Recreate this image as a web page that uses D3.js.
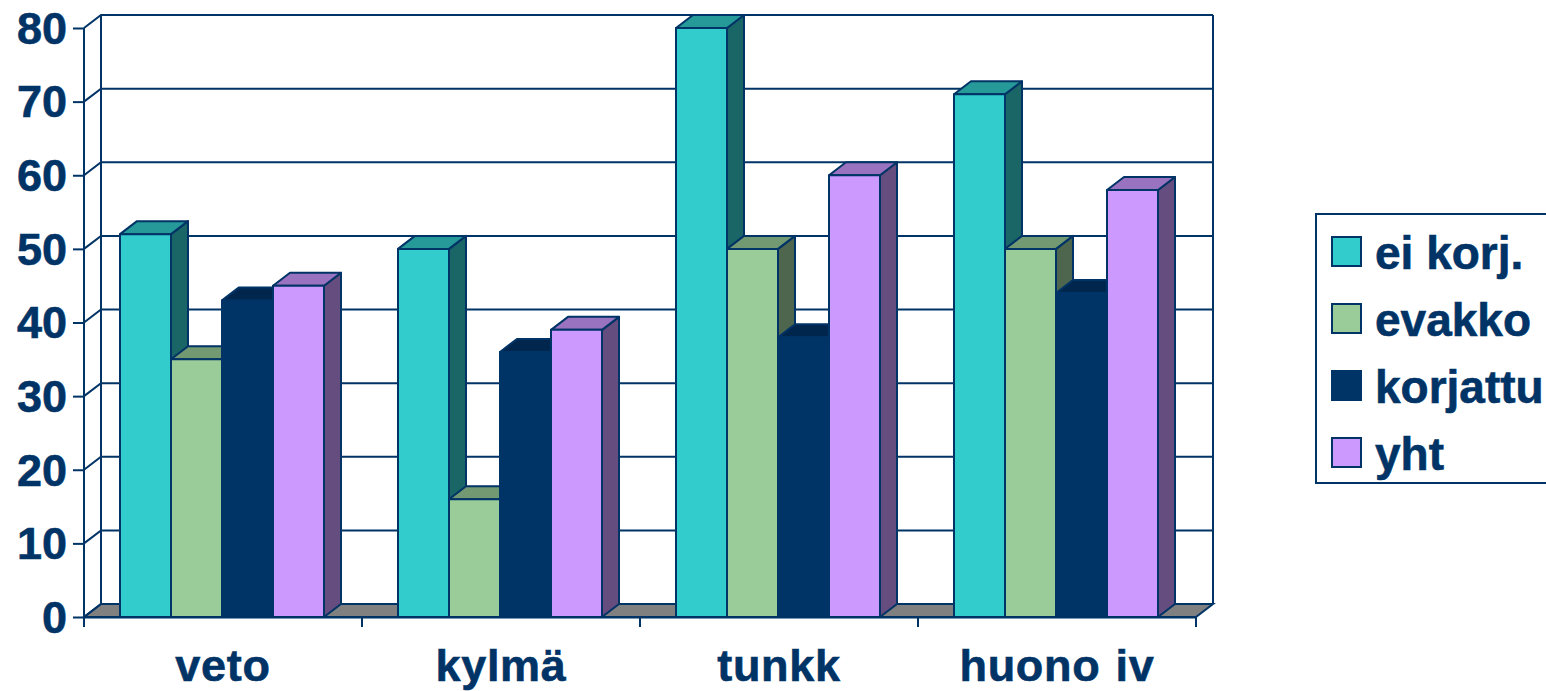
<!DOCTYPE html>
<html>
<head>
<meta charset="utf-8">
<script src="https://cdn.jsdelivr.net/npm/d3@7"></script>
<style>
  body { margin: 0; background: #fff; }
  text { font-family: "Liberation Sans", Arial, sans-serif; font-weight: bold; fill: #003366; stroke: #003366; stroke-width: 0.6px; }
</style>
</head>
<body>
<div id="chart"></div>
<script>
var categories = ["veto", "kylmä", "tunkk", "huono iv"];
var seriesNames = ["ei korj.", "evakko", "korjattu", "yht"];
var eiKorj = [52, 50, 80, 71];
var evakko = [35, 16, 50, 50];
var korjattu = [43, 36, 38, 44];
var yht = [45, 39, 60, 58];
var yTicks = [0, 10, 20, 30, 40, 50, 60, 70, 80];
var seriesValues = [eiKorj, evakko, korjattu, yht];

var colors = ["#33CCCC", "#99CC99", "#003366", "#CC99FF"];
var topColors = ["#269999", "#739973", "#00264D", "#9973BF"];
var sideColors = ["#1A6666", "#4D664D", "#001A33", "#664D80"];
var navy = "#003366";

function init() {
	var w = 1546;
	var h = 691;
	var depthX = 17;
	var depthY = 13;

	var svg = d3.select("#chart")
				.append("svg")
				.attr("width", w)
				.attr("height", h)
				.style("display", "block");

	var y = d3.scaleLinear().domain([0, 80]).range([617, 28]);
	var x0 = d3.scaleBand().domain(categories).range([84, 1196]);
	var x1 = d3.scaleBand().domain(seriesNames).range([36, 240]);

	var xLeft = x0.range()[0];
	var xRight = x0.range()[1];

	// floor
	svg.append("polygon")
	   .attr("points", [[xLeft, y(0)], [xLeft + depthX, y(0) - depthY],
						[xRight + depthX, y(0) - depthY], [xRight, y(0)]].join(" "))
	   .style("fill", "#808080")
	   .style("stroke", navy)
	   .style("stroke-width", 2);

	// back wall grid lines
	svg.selectAll("line.grid")
	   .data(yTicks)
	   .enter()
	   .append("polyline")
	   .attr("points", function(d) {
		   return [[xLeft, y(d)], [xLeft + depthX, y(d) - depthY], [xRight + depthX, y(d) - depthY]].join(" ");
	   })
	   .style("fill", "none")
	   .style("stroke", navy)
	   .style("stroke-width", 2);

	// walls
	[xLeft, xLeft + depthX, xRight + depthX].forEach(function(px, i) {
		var off = i == 0 ? 0 : depthY;
		svg.append("line")
		   .attr("x1", px).attr("x2", px)
		   .attr("y1", y(0) - off).attr("y2", y(80) - off)
		   .style("stroke", navy)
		   .style("stroke-width", 2);
	});

	// bars
	categories.forEach(function(cat, c) {
		seriesNames.forEach(function(name, s) {
			var v = seriesValues[s][c];
			var bx = x0(cat) + x1(name);
			var bw = x1.bandwidth();
			var by = y(v);
			var g = svg.append("g")
					   .style("stroke", navy)
					   .style("stroke-width", 2)
					   .style("stroke-linejoin", "round");

			g.append("polygon")
			 .attr("points", [[bx + bw, by], [bx + bw + depthX, by - depthY],
							  [bx + bw + depthX, y(0) - depthY], [bx + bw, y(0)]].join(" "))
			 .style("fill", sideColors[s]);
			g.append("polygon")
			 .attr("points", [[bx, by], [bx + depthX, by - depthY],
							  [bx + bw + depthX, by - depthY], [bx + bw, by]].join(" "))
			 .style("fill", topColors[s]);
			g.append("rect")
			 .attr("x", bx)
			 .attr("y", by)
			 .attr("width", bw)
			 .attr("height", y(0) - by)
			 .style("fill", colors[s]);
		});
	});

	// axes
	var yAxis = d3.axisLeft(y).tickValues(yTicks).tickSize(11).tickPadding(6);
	var gy = svg.append("g").attr("transform", "translate(" + xLeft + ",0)").call(yAxis);
	gy.select(".domain").remove();
	gy.selectAll("line").style("stroke", navy).style("stroke-width", 2);
	gy.selectAll("text").style("font-size", "45px").attr("dy", "0.34em");

	var xAxis = d3.axisBottom(x0).tickSize(0).tickPadding(32);
	var gx = svg.append("g").attr("transform", "translate(0," + y(0) + ")").call(xAxis);
	gx.select(".domain").style("stroke", navy).style("stroke-width", 2);
	gx.selectAll("text")
	  .style("font-size", "45px")
	  .style("letter-spacing", "0.7px")
	  .style("word-spacing", "2px");

	svg.selectAll("line.xtick")
	   .data(categories.concat(["end"]))
	   .enter()
	   .append("line")
	   .attr("class", "xtick")
	   .attr("x1", function(d) { return d == "end" ? xRight : x0(d); })
	   .attr("x2", function(d) { return d == "end" ? xRight : x0(d); })
	   .attr("y1", y(0))
	   .attr("y2", y(0) + 10)
	   .style("stroke", navy)
	   .style("stroke-width", 2);

	// legend
	svg.append("rect")
	   .attr("x", 1316).attr("y", 214)
	   .attr("width", 260).attr("height", 269)
	   .style("fill", "#fff")
	   .style("stroke", navy)
	   .style("stroke-width", 2);

	var legendY = d3.scalePoint().domain(seriesNames).range([252, 453]);
	var legend = svg.selectAll("g.legend")
					.data(seriesNames)
					.enter()
					.append("g")
					.attr("class", "legend")
					.attr("transform", function(d) { return "translate(0," + legendY(d) + ")"; });
	legend.append("rect")
		  .attr("x", 1332).attr("y", -15)
		  .attr("width", 29).attr("height", 29)
		  .style("fill", function(d, i) { return colors[i]; })
		  .style("stroke", navy)
		  .style("stroke-width", 2);
	legend.append("text")
		  .attr("x", 1375)
		  .attr("y", 17)
		  .style("font-size", "46px")
		  .text(function(d) { return d; });
}

window.onload = init;
</script>
</body>
</html>
